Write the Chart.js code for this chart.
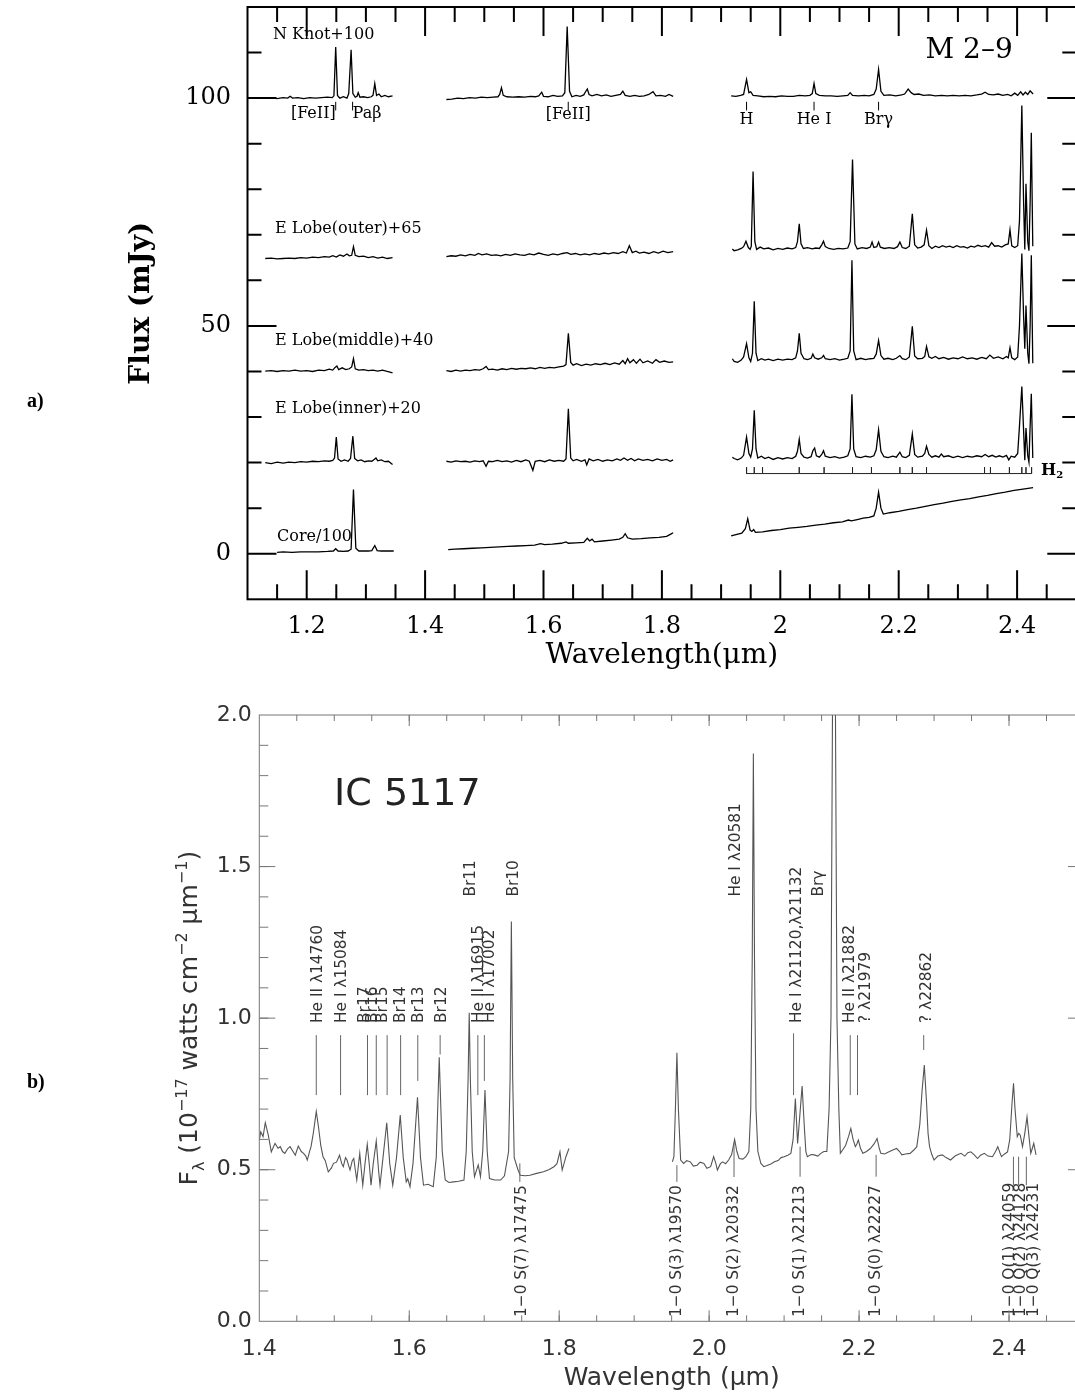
<!DOCTYPE html>
<html lang="en">
<head>
<meta charset="utf-8">
<title>M 2-9 and IC 5117 near-infrared spectra</title>
<script src="https://cdn.jsdelivr.net/npm/chart.js@4.4.1/dist/chart.umd.min.js"></script>
<style>
  html, body { margin: 0; padding: 0; background: #fff; overflow: hidden; }
  body { position: relative; width: 1075px; height: 1394px; }
  canvas { position: absolute; left: 0; }
  #chartA { top: -33.4px; }
  #chartB { top: 684.7px; }
  .panel-tag { position: absolute; left: 27px; font: bold 20px "Liberation Serif", serif; line-height: 24px; color: #000; }
</style>
</head>
<body>
<canvas id="chartA" width="1100" height="734"></canvas>
<canvas id="chartB" width="1100" height="709"></canvas>
<div class="panel-tag" style="top:388px">a)</div>
<div class="panel-tag" style="top:1069px">b)</div>
<script>
// ===================== Panel a: M 2-9 =====================
// Each spectrum is [wavelength (µm), flux (mJy)] before its vertical offset.
const m29SpectrumNames = ['N Knot+100', 'E Lobe(outer)+65', 'E Lobe(middle)+40', 'E Lobe(inner)+20', 'Core/100'];
const m29Offsets = [100, 65, 40, 20, 0];

const nKnot = [
  [1.135,0.0],[1.140,0.1],[1.150,-0.1],[1.160,0.1],[1.168,0.0],[1.172,0.4],[1.176,0.0],[1.185,0.1],[1.195,-0.1],[1.205,0.1],
  [1.215,0.0],[1.225,0.1],[1.235,0.2],[1.243,0.1],[1.246,0.5],[1.249,11.2],[1.252,0.6],[1.256,0.0],[1.262,0.3],[1.268,0.0],
  [1.271,1.0],[1.275,10.6],[1.278,1.0],[1.282,0.2],[1.285,0.4],[1.287,1.2],[1.290,0.2],[1.296,0.3],[1.303,0.1],[1.309,0.3],
  [1.312,0.6],[1.315,3.2],[1.318,0.6],[1.322,0.9],[1.326,0.3],[1.332,0.6],[1.338,0.3],[1.345,0.5],
  [1.436,-0.3],[1.445,-0.2],[1.455,0.0],[1.465,-0.1],[1.475,0.1],[1.485,0.0],[1.495,0.2],[1.505,0.1],[1.515,0.2],[1.523,0.3],
  [1.526,0.8],[1.529,2.3],[1.532,0.6],[1.538,0.3],[1.548,0.2],[1.558,0.3],[1.568,0.2],[1.578,0.4],[1.586,0.3],[1.592,0.5],
  [1.597,1.3],[1.600,0.4],[1.608,0.3],[1.616,0.6],[1.624,0.4],[1.632,0.5],[1.636,1.2],[1.640,15.7],[1.644,1.5],[1.648,0.3],
  [1.655,0.6],[1.662,0.4],[1.668,0.7],[1.671,1.4],[1.674,2.0],[1.677,0.8],[1.682,0.5],[1.690,0.8],[1.698,0.5],[1.706,0.7],
  [1.714,0.4],[1.722,0.6],[1.730,0.8],[1.734,1.5],[1.738,0.6],[1.746,0.4],[1.754,0.6],[1.762,0.4],[1.770,0.5],[1.778,0.8],
  [1.785,1.4],[1.790,0.5],[1.798,0.6],[1.806,0.4],[1.812,0.8],[1.819,0.4],
  [1.917,0.5],[1.925,0.4],[1.933,0.6],[1.938,0.8],[1.943,4.1],[1.947,1.2],[1.950,1.4],[1.954,0.6],[1.962,0.5],[1.972,0.3],
  [1.982,0.4],[1.992,0.3],[2.002,0.5],[2.012,0.4],[2.022,0.4],[2.032,0.6],[2.042,0.5],[2.050,0.6],[2.054,1.0],[2.057,3.2],
  [2.060,1.0],[2.066,0.6],[2.076,0.5],[2.086,0.5],[2.096,0.4],[2.106,0.5],[2.114,0.6],[2.118,1.2],[2.122,0.6],[2.132,0.5],
  [2.142,0.6],[2.150,0.5],[2.158,0.8],[2.162,2.0],[2.166,6.3],[2.170,1.5],[2.175,0.6],[2.185,0.7],[2.195,0.5],[2.205,0.7],
  [2.210,0.9],[2.216,2.0],[2.221,1.2],[2.226,0.8],[2.234,0.9],[2.242,0.6],[2.252,0.7],[2.262,0.5],[2.272,0.6],[2.282,0.5],
  [2.292,0.6],[2.302,0.5],[2.312,0.6],[2.322,0.5],[2.332,0.7],[2.340,0.9],[2.346,1.3],[2.352,0.8],[2.360,0.7],[2.368,0.9],
  [2.376,0.6],[2.384,0.8],[2.390,0.5],[2.396,1.1],[2.401,0.6],[2.406,1.4],[2.410,0.7],[2.414,1.3],[2.418,0.8],[2.422,1.6],[2.427,0.9]
];

const eLobeOuter = [
  [1.130,-0.2],[1.140,-0.1],[1.150,-0.3],[1.160,-0.2],[1.170,-0.1],[1.180,-0.2],[1.190,0.0],[1.200,-0.1],[1.210,0.1],[1.220,0.0],
  [1.230,0.2],[1.238,0.1],[1.244,0.4],[1.250,0.1],[1.256,0.6],[1.262,0.3],[1.268,0.8],[1.272,0.4],[1.276,0.5],[1.279,2.4],
  [1.282,0.5],[1.288,0.2],[1.296,0.3],[1.304,0.0],[1.312,0.2],[1.320,-0.1],[1.328,0.1],[1.336,-0.2],[1.345,0.0],
  [1.436,0.2],[1.444,0.4],[1.452,0.3],[1.460,0.6],[1.468,0.4],[1.476,0.7],[1.484,0.5],[1.490,0.9],[1.496,0.6],[1.504,0.8],
  [1.512,0.5],[1.520,0.6],[1.528,0.4],[1.536,0.7],[1.544,0.5],[1.552,0.8],[1.560,0.6],[1.568,0.5],[1.576,0.8],[1.584,0.6],
  [1.592,1.0],[1.600,0.7],[1.608,0.5],[1.616,0.8],[1.624,0.6],[1.632,0.9],[1.640,1.1],[1.646,0.7],[1.654,0.9],[1.662,0.6],
  [1.670,0.8],[1.678,0.6],[1.686,0.9],[1.694,0.7],[1.702,1.0],[1.710,0.8],[1.718,1.1],[1.726,0.9],[1.734,1.3],[1.740,1.0],
  [1.745,2.6],[1.750,1.1],[1.756,1.4],[1.762,1.0],[1.770,1.2],[1.778,0.9],[1.786,1.3],[1.794,1.0],[1.802,1.4],[1.810,1.1],[1.819,1.3],
  [1.919,1.9],[1.922,1.5],[1.928,1.7],[1.934,2.0],[1.938,2.4],[1.942,3.6],[1.946,2.2],[1.949,1.8],[1.951,2.5],[1.954,18.9],
  [1.957,3.5],[1.960,1.8],[1.966,2.3],[1.972,1.9],[1.980,2.1],[1.988,1.7],[1.996,2.0],[2.004,1.8],[2.012,2.1],[2.020,1.9],
  [2.026,2.2],[2.029,3.5],[2.032,7.4],[2.035,3.0],[2.039,2.0],[2.046,2.2],[2.054,1.9],[2.060,2.1],[2.066,2.0],[2.070,2.8],
  [2.073,3.6],[2.076,2.4],[2.082,2.0],[2.090,1.8],[2.098,2.0],[2.106,1.9],[2.114,2.1],[2.118,3.5],[2.122,21.5],[2.126,3.0],
  [2.130,1.9],[2.138,2.2],[2.146,2.0],[2.152,2.3],[2.155,3.4],[2.158,2.2],[2.163,2.4],[2.166,3.4],[2.169,2.3],[2.176,2.0],
  [2.184,2.2],[2.192,2.0],[2.198,2.4],[2.202,3.4],[2.206,2.2],[2.212,2.0],[2.218,2.5],[2.223,9.6],[2.227,2.8],[2.232,2.1],
  [2.238,2.3],[2.243,2.8],[2.247,6.0],[2.251,2.6],[2.256,2.0],[2.262,2.5],[2.268,2.2],[2.274,2.6],[2.280,2.3],[2.286,2.5],
  [2.292,2.2],[2.298,2.6],[2.304,2.3],[2.310,2.4],[2.316,2.1],[2.322,2.5],[2.328,2.3],[2.334,2.7],[2.340,2.4],[2.346,2.6],
  [2.352,2.3],[2.357,3.3],[2.362,2.5],[2.368,2.6],[2.374,2.3],[2.380,2.8],[2.385,3.0],[2.388,6.1],[2.391,2.6],[2.396,2.2],
  [2.401,2.6],[2.404,8.0],[2.408,33.4],[2.411,12.0],[2.413,1.8],[2.415,16.2],[2.418,3.5],[2.420,1.5],[2.422,12.0],[2.424,27.4],[2.4265,2.5]
];

const eLobeMiddle = [
  [1.130,0.1],[1.140,0.2],[1.150,0.0],[1.160,0.2],[1.170,0.1],[1.180,0.3],[1.190,0.1],[1.200,0.2],[1.210,0.0],[1.220,0.3],
  [1.230,0.2],[1.238,0.5],[1.244,0.3],[1.248,0.9],[1.251,1.2],[1.254,0.4],[1.260,0.8],[1.266,0.4],[1.272,0.6],[1.276,1.0],
  [1.279,2.8],[1.282,0.6],[1.288,0.3],[1.296,0.4],[1.304,0.2],[1.312,0.3],[1.320,0.1],[1.328,0.3],[1.336,0.0],[1.345,-0.3],
  [1.436,0.2],[1.444,0.0],[1.452,0.3],[1.460,0.1],[1.468,0.3],[1.476,0.2],[1.484,0.4],[1.492,0.3],[1.498,0.6],[1.503,1.1],
  [1.507,0.4],[1.514,0.5],[1.522,0.3],[1.530,0.6],[1.538,0.4],[1.546,0.7],[1.554,0.5],[1.562,0.7],[1.570,0.6],[1.578,0.8],
  [1.586,0.6],[1.594,0.9],[1.602,0.7],[1.610,0.9],[1.618,0.8],[1.626,1.0],[1.634,1.2],[1.638,1.5],[1.642,8.4],[1.646,2.0],
  [1.650,1.4],[1.656,1.7],[1.664,1.3],[1.672,1.6],[1.680,1.4],[1.688,1.7],[1.696,1.5],[1.704,1.8],[1.712,1.5],[1.720,1.9],
  [1.728,1.6],[1.734,2.4],[1.738,1.7],[1.742,2.8],[1.746,1.9],[1.752,2.6],[1.757,1.8],[1.763,2.7],[1.768,1.9],[1.776,2.3],
  [1.784,1.8],[1.790,2.6],[1.796,2.0],[1.804,2.3],[1.812,2.0],[1.819,2.1],
  [1.919,2.8],[1.922,2.2],[1.928,2.0],[1.934,2.5],[1.938,3.2],[1.943,6.1],[1.947,3.0],[1.950,2.2],[1.953,4.0],[1.956,15.4],
  [1.959,4.0],[1.962,2.4],[1.968,2.8],[1.974,2.5],[1.980,2.7],[1.988,2.4],[1.996,2.7],[2.004,2.5],[2.012,2.7],[2.020,2.6],
  [2.026,3.0],[2.029,4.5],[2.032,8.4],[2.035,4.0],[2.040,2.8],[2.046,2.6],[2.052,2.9],[2.055,3.8],[2.058,3.0],[2.064,2.7],
  [2.070,3.0],[2.073,3.5],[2.076,2.8],[2.084,2.6],[2.092,2.8],[2.100,2.5],[2.108,2.7],[2.114,2.9],[2.118,4.5],[2.121,24.4],
  [2.124,4.5],[2.128,2.6],[2.136,2.9],[2.144,2.6],[2.152,2.8],[2.158,2.9],[2.162,3.8],[2.166,6.8],[2.170,3.5],[2.175,2.7],
  [2.182,2.9],[2.190,2.6],[2.196,2.9],[2.202,3.5],[2.206,2.8],[2.212,2.6],[2.218,3.2],[2.223,9.9],[2.227,3.4],[2.232,2.8],
  [2.240,2.9],[2.244,3.3],[2.247,5.5],[2.251,3.2],[2.256,2.9],[2.262,3.3],[2.268,2.8],[2.276,3.1],[2.284,2.7],[2.292,3.0],
  [2.300,2.8],[2.308,3.2],[2.316,2.8],[2.324,3.0],[2.332,2.7],[2.340,3.1],[2.348,2.8],[2.354,3.6],[2.360,2.9],[2.368,3.2],
  [2.376,2.8],[2.382,3.3],[2.385,3.0],[2.388,5.2],[2.391,3.0],[2.396,2.6],[2.401,3.2],[2.404,10.0],[2.408,25.9],[2.411,12.0],
  [2.413,5.0],[2.415,14.5],[2.418,4.0],[2.420,1.7],[2.422,10.0],[2.424,25.5],[2.4265,1.8]
];

const eLobeInner = [
  [1.130,0.0],[1.140,-0.2],[1.150,0.1],[1.160,-0.1],[1.170,0.1],[1.180,0.0],[1.190,0.2],[1.200,0.1],[1.210,0.3],[1.220,0.2],
  [1.230,0.4],[1.238,0.3],[1.244,0.5],[1.247,1.0],[1.250,5.6],[1.253,0.8],[1.258,0.3],[1.264,0.6],[1.270,0.3],[1.274,0.9],
  [1.278,5.8],[1.281,0.9],[1.286,0.4],[1.292,0.6],[1.298,0.2],[1.304,0.4],[1.310,0.3],[1.314,0.7],[1.317,1.0],[1.320,0.4],
  [1.326,0.6],[1.332,0.2],[1.338,0.3],[1.345,-0.4],
  [1.436,0.3],[1.444,0.1],[1.452,0.4],[1.460,0.2],[1.468,0.3],[1.476,0.1],[1.484,0.4],[1.492,0.2],[1.498,0.4],[1.503,-0.8],
  [1.507,0.3],[1.514,0.2],[1.522,0.5],[1.530,0.2],[1.538,0.4],[1.546,0.1],[1.554,0.5],[1.562,0.2],[1.570,0.6],[1.576,0.3],
  [1.582,-1.7],[1.586,0.3],[1.594,0.5],[1.602,0.2],[1.610,0.6],[1.618,0.3],[1.626,0.5],[1.634,0.3],[1.638,0.8],[1.642,11.8],
  [1.646,1.0],[1.650,0.4],[1.656,0.7],[1.664,0.3],[1.670,0.6],[1.673,-0.5],[1.677,0.8],[1.684,0.4],[1.692,0.7],[1.700,0.3],
  [1.708,0.6],[1.716,0.4],[1.724,0.8],[1.730,0.5],[1.736,1.0],[1.742,0.5],[1.748,0.9],[1.754,0.4],[1.760,0.8],[1.768,0.5],
  [1.776,0.7],[1.784,0.4],[1.792,0.8],[1.800,0.5],[1.808,0.7],[1.814,0.3],[1.819,0.6],
  [1.919,1.2],[1.922,0.9],[1.928,0.6],[1.934,1.0],[1.938,1.6],[1.943,5.6],[1.947,2.0],[1.950,1.2],[1.953,3.0],[1.956,11.5],
  [1.959,3.0],[1.962,1.0],[1.968,1.4],[1.974,0.9],[1.980,1.2],[1.988,0.7],[1.996,1.1],[2.004,0.8],[2.012,1.1],[2.020,0.9],
  [2.026,1.4],[2.029,2.5],[2.032,5.1],[2.035,2.0],[2.040,1.2],[2.046,1.0],[2.052,1.3],[2.055,2.6],[2.058,3.2],[2.061,1.5],
  [2.066,1.2],[2.070,1.8],[2.073,2.6],[2.076,1.4],[2.084,1.1],[2.092,1.3],[2.100,1.0],[2.108,1.2],[2.114,1.5],[2.118,3.0],
  [2.121,15.0],[2.124,3.0],[2.128,1.3],[2.136,1.1],[2.144,1.4],[2.152,1.2],[2.158,1.5],[2.162,2.8],[2.166,7.2],[2.170,2.5],
  [2.175,1.3],[2.182,1.1],[2.190,1.4],[2.196,1.2],[2.202,2.3],[2.206,1.3],[2.212,1.1],[2.218,1.6],[2.223,6.3],[2.227,1.8],
  [2.232,1.2],[2.240,1.4],[2.244,2.0],[2.247,3.6],[2.251,1.8],[2.256,1.2],[2.262,1.5],[2.268,1.2],[2.272,1.9],[2.276,1.3],
  [2.284,1.5],[2.292,1.1],[2.300,1.4],[2.308,1.1],[2.316,1.4],[2.324,1.2],[2.332,1.5],[2.340,1.3],[2.346,1.8],[2.352,1.3],
  [2.358,1.6],[2.364,1.2],[2.370,1.5],[2.376,1.2],[2.382,1.6],[2.386,0.6],[2.390,1.4],[2.396,1.2],[2.401,2.0],[2.404,8.0],
  [2.408,16.7],[2.411,7.0],[2.413,0.5],[2.415,7.6],[2.418,1.5],[2.420,0.1],[2.422,8.0],[2.424,15.1],[2.4265,1.0]
];

const core = [
  [1.150,0.3],[1.160,0.4],[1.175,0.3],[1.190,0.4],[1.205,0.4],[1.220,0.4],[1.235,0.5],[1.245,0.6],[1.249,1.1],[1.253,0.6],
  [1.262,0.5],[1.270,0.6],[1.275,1.0],[1.279,14.1],[1.283,1.2],[1.288,0.6],[1.296,0.6],[1.304,0.6],[1.310,0.7],[1.315,1.8],
  [1.319,0.7],[1.326,0.6],[1.335,0.6],[1.347,0.6],
  [1.439,0.9],[1.450,1.0],[1.465,1.1],[1.480,1.2],[1.495,1.3],[1.510,1.4],[1.525,1.5],[1.540,1.6],[1.555,1.7],[1.570,1.8],
  [1.585,1.9],[1.595,2.2],[1.602,2.0],[1.615,2.1],[1.630,2.3],[1.638,2.6],[1.642,2.3],[1.655,2.4],[1.668,2.5],[1.674,3.4],
  [1.678,2.8],[1.682,3.2],[1.686,2.6],[1.700,2.8],[1.715,3.0],[1.728,3.2],[1.734,3.6],[1.738,4.4],[1.742,3.5],[1.750,3.2],
  [1.765,3.3],[1.780,3.5],[1.795,3.6],[1.808,3.8],[1.815,4.3],[1.819,4.6],
  [1.917,3.9],[1.925,4.2],[1.935,4.5],[1.941,5.5],[1.945,7.7],[1.949,5.2],[1.952,4.9],[1.955,5.3],[1.958,4.7],[1.970,4.8],
  [1.985,5.1],[2.000,5.3],[2.015,5.6],[2.030,5.8],[2.045,6.0],[2.060,6.3],[2.075,6.5],[2.090,6.8],[2.105,7.0],[2.115,7.4],
  [2.120,7.2],[2.130,7.5],[2.140,7.8],[2.150,8.0],[2.158,8.3],[2.162,10.0],[2.166,13.5],[2.170,10.0],[2.174,8.7],[2.185,9.0],
  [2.200,9.3],[2.215,9.7],[2.230,10.0],[2.245,10.4],[2.260,10.8],[2.275,11.1],[2.290,11.5],[2.305,11.8],[2.320,12.1],[2.335,12.5],
  [2.350,12.8],[2.365,13.2],[2.380,13.5],[2.395,13.9],[2.410,14.2],[2.427,14.5]
];

const m29LineNames = ['[FeII]', 'Paβ', '[FeII]', 'H', 'He I', 'Brγ'];
const m29LineWl = [1.249, 1.2775, 1.6418, 1.943, 2.057, 2.166];
const h2MarkerWl = [1.943, 1.956, 1.970, 2.032, 2.074, 2.122, 2.154, 2.202, 2.223, 2.247, 2.345, 2.355, 2.387, 2.408, 2.415, 2.4245];
const m29Title = 'M 2–9';

const m29XTicks = [1.2, 1.4, 1.6, 1.8, 2.0, 2.2, 2.4];
const m29XTickLabels = ['1.2', '1.4', '1.6', '1.8', '2', '2.2', '2.4'];
const m29YTicks = [0, 50, 100];
const m29YTickLabels = ['0', '50', '100'];

// ===================== Panel b: IC 5117 =====================
// [wavelength (µm), F_lambda (1e-17 W cm^-2 µm^-1)] – H and K segments
const ic5117Spectrum = [
  [1.400,0.598],[1.402,0.625],[1.405,0.609],[1.408,0.655],[1.412,0.614],[1.416,0.559],[1.421,0.587],[1.425,0.571],[1.428,0.576],[1.431,0.560],
  [1.434,0.554],[1.438,0.570],[1.441,0.576],[1.445,0.560],[1.448,0.548],[1.452,0.578],[1.456,0.560],[1.459,0.554],[1.462,0.545],[1.464,0.532],
  [1.467,0.560],[1.469,0.576],[1.472,0.620],[1.476,0.692],[1.479,0.640],[1.482,0.580],[1.485,0.543],[1.488,0.530],[1.492,0.493],[1.496,0.505],
  [1.499,0.521],[1.503,0.525],[1.507,0.548],[1.510,0.520],[1.512,0.510],[1.515,0.540],[1.517,0.532],[1.519,0.515],[1.521,0.499],[1.524,0.530],
  [1.526,0.537],[1.528,0.500],[1.530,0.466],[1.532,0.510],[1.534,0.554],[1.536,0.500],[1.538,0.449],[1.541,0.520],[1.544,0.584],[1.547,0.510],
  [1.549,0.449],[1.552,0.520],[1.556,0.595],[1.559,0.500],[1.561,0.449],[1.565,0.540],[1.570,0.655],[1.574,0.520],[1.578,0.449],[1.583,0.540],
  [1.588,0.680],[1.592,0.540],[1.596,0.460],[1.598,0.470],[1.601,0.444],[1.605,0.520],[1.611,0.739],[1.615,0.540],[1.619,0.449],[1.625,0.452],
  [1.632,0.444],[1.636,0.540],[1.640,0.871],[1.644,0.560],[1.648,0.466],[1.653,0.458],[1.659,0.460],[1.666,0.462],[1.673,0.466],[1.676,0.560],
  [1.6785,0.800],[1.680,1.018],[1.6815,0.800],[1.684,0.560],[1.687,0.477],[1.692,0.516],[1.695,0.477],[1.698,0.560],[1.701,0.763],[1.704,0.560],
  [1.707,0.471],[1.714,0.466],[1.722,0.466],[1.727,0.480],[1.7325,0.560],[1.7345,0.800],[1.7362,1.319],[1.738,0.800],[1.740,0.540],[1.745,0.500],
  [1.748,0.482],[1.755,0.480],[1.761,0.482],[1.770,0.488],[1.779,0.493],[1.786,0.500],[1.793,0.510],[1.797,0.520],[1.801,0.559],[1.804,0.499],
  [1.809,0.543],[1.813,0.570],
  [1.951,0.526],[1.953,0.543],[1.955,0.700],[1.957,0.886],[1.959,0.700],[1.962,0.532],[1.966,0.521],[1.970,0.530],[1.975,0.526],[1.979,0.512],
  [1.984,0.515],[1.988,0.525],[1.993,0.521],[1.997,0.505],[2.002,0.510],[2.006,0.543],[2.009,0.520],[2.011,0.499],[2.015,0.520],[2.018,0.526],
  [2.022,0.520],[2.026,0.532],[2.030,0.550],[2.034,0.600],[2.037,0.560],[2.040,0.537],[2.045,0.535],[2.049,0.543],[2.053,0.560],[2.0555,0.700],
  [2.0575,1.200],[2.059,1.873],[2.0605,1.200],[2.0625,0.700],[2.065,0.560],[2.069,0.521],[2.073,0.510],[2.078,0.515],[2.083,0.520],[2.087,0.526],
  [2.092,0.530],[2.096,0.540],[2.100,0.543],[2.105,0.548],[2.109,0.554],[2.112,0.600],[2.115,0.735],[2.118,0.587],[2.121,0.680],[2.124,0.776],
  [2.127,0.640],[2.129,0.560],[2.131,0.543],[2.136,0.550],[2.140,0.549],[2.145,0.545],[2.149,0.554],[2.153,0.560],[2.157,0.560],[2.160,0.700],
  [2.1625,1.000],[2.1645,2.000],[2.1665,2.800],[2.1685,2.000],[2.1705,1.000],[2.173,0.700],[2.175,0.554],[2.178,0.565],[2.182,0.580],[2.186,0.610],
  [2.189,0.636],[2.192,0.600],[2.195,0.576],[2.197,0.585],[2.199,0.598],[2.202,0.570],[2.205,0.554],[2.210,0.560],[2.215,0.570],[2.220,0.585],
  [2.224,0.603],[2.227,0.570],[2.229,0.554],[2.234,0.552],[2.240,0.559],[2.245,0.565],[2.250,0.570],[2.254,0.560],[2.257,0.549],[2.262,0.552],
  [2.268,0.554],[2.273,0.565],[2.277,0.576],[2.281,0.650],[2.284,0.760],[2.287,0.845],[2.290,0.720],[2.292,0.620],[2.294,0.576],[2.297,0.550],
  [2.300,0.532],[2.305,0.545],[2.311,0.549],[2.316,0.540],[2.322,0.532],[2.328,0.545],[2.332,0.550],[2.336,0.554],[2.341,0.545],[2.345,0.556],
  [2.349,0.559],[2.354,0.548],[2.358,0.537],[2.362,0.548],[2.367,0.554],[2.372,0.545],[2.378,0.543],[2.382,0.560],[2.385,0.576],[2.388,0.555],
  [2.390,0.543],[2.394,0.552],[2.398,0.559],[2.401,0.600],[2.404,0.720],[2.406,0.785],[2.408,0.700],[2.411,0.609],[2.413,0.620],[2.415,0.614],
  [2.418,0.576],[2.421,0.620],[2.424,0.674],[2.427,0.600],[2.429,0.554],[2.431,0.570],[2.433,0.587],[2.436,0.549]
];

const ic5117UpperIdNames = ['He II λ14760', 'He I λ15084', 'Br17', 'Br16', 'Br15', 'Br14', 'Br13', 'Br12', 'Br11',
  'He II λ16915', 'He I λ17002', 'Br10', 'He I λ20581', 'He I λ21120,λ21132', 'Brγ', 'He II λ21882', '? λ21979', '? λ22862'];
const ic5117UpperIdWl = [1.4760, 1.5084, 1.5443, 1.5560, 1.5705, 1.5885, 1.6114, 1.6412, 1.6811,
  1.6915, 1.7002, 1.7367, 2.0581, 2.1126, 2.1661, 2.1882, 2.1979, 2.2862];
const ic5117LowerIdNames = ['1−0 S(7) λ17475', '1−0 S(3) λ19570', '1−0 S(2) λ20332', '1−0 S(1) λ21213',
  '1−0 S(0) λ22227', '1−0 Q(1) λ24059', '1−0 Q(2) λ24128', '1−0 Q(3) λ24231'];
const ic5117LowerIdWl = [1.7475, 1.9570, 2.0332, 2.1213, 2.2227, 2.4059, 2.4128, 2.4231];
const ic5117Title = 'IC 5117';

const ic5117XTicks = [1.4, 1.6, 1.8, 2.0, 2.2, 2.4];
const ic5117XTickLabels = ['1.4', '1.6', '1.8', '2.0', '2.2', '2.4'];
const ic5117YTicks = [0, 0.5, 1.0, 1.5, 2.0];
const ic5117YTickLabels = ['0.0', '0.5', '1.0', '1.5', '2.0'];

// ===================== layout (where the annotations sit) =====================
const m29NameAnchors = [[1.143, 113.8], [1.1466, 71.4], [1.1466, 46.8], [1.1466, 31.9], [1.150, 3.8]];
const m29LineLabelLayout = [
  { align: 'right', dx: 0, level: 96.5 }, { align: 'left', dx: 0, level: 96.5 }, { align: 'center', dx: 0, level: 96.3 },
  { align: 'center', dx: 0, level: 95.3 }, { align: 'center', dx: 0, level: 95.3 }, { align: 'center', dx: 0, level: 95.3 }
];
const m29LineTick = [97.3, 99.2];
const h2Comb = { base: 17.6, top: 19.0 };

const upperIdLayout = [
  { level: 0.984, dx: 2, tick: [0.746, 0.944] },
  { level: 0.984, dx: 1, tick: [0.746, 0.944] },
  { level: 0.984, dx: -2, tick: [0.746, 0.944] },
  { level: 0.984, dx: -3, tick: [0.746, 0.944] },
  { level: 0.984, dx: -4, tick: [0.746, 0.944] },
  { level: 0.984, dx: 0, tick: [0.746, 0.944] },
  { level: 0.984, dx: 1, tick: [0.793, 0.944] },
  { level: 0.984, dx: 2, tick: [0.880, 0.944] },
  { level: 1.401, dx: 1, tick: null },
  { level: 0.984, dx: 1.5, tick: [0.746, 0.944] },
  { level: 0.984, dx: 5.5, tick: [0.793, 0.944] },
  { level: 1.401, dx: 2, tick: null },
  { level: 1.401, dx: -17, tick: null },
  { level: 0.984, dx: 3.5, tick: [0.746, 0.950] },
  { level: 1.401, dx: -15, tick: null },
  { level: 0.984, dx: 0, tick: [0.746, 0.944] },
  { level: 0.984, dx: 8, tick: [0.746, 0.944] },
  { level: 0.984, dx: 3.5, tick: [0.895, 0.944] }
];
const lowerIdLayout = [
  { level: 0.014, dx: 2, tick: [0.460, 0.521] },
  { level: 0.014, dx: 0, tick: [0.460, 0.515] },
  { level: 0.014, dx: 0, tick: [0.476, 0.588] },
  { level: 0.014, dx: 0, tick: [0.477, 0.576] },
  { level: 0.014, dx: 0, tick: [0.477, 0.549] },
  { level: 0.014, dx: -3, tick: [0.449, 0.543] },
  { level: 0.014, dx: 2.5, tick: [0.449, 0.543] },
  { level: 0.014, dx: 8, tick: [0.449, 0.543] }
];

// ===================== helpers =====================
// spectrum pairs -> chart points, breaking the line across the atmospheric gaps
function toPoints(pairs, offset) {
  const pts = [];
  pairs.forEach(([w, f], i) => {
    if (i > 0 && w - pairs[i - 1][0] > 0.05) pts.push({ x: (w + pairs[i - 1][0]) / 2, y: null });
    pts.push({ x: w, y: f + offset });
  });
  return pts;
}
function combPoints(wls, base, top) {
  const pts = [];
  wls.forEach((w, i) => {
    if (i) pts.push({ x: w, y: base });
    pts.push({ x: w, y: top });
    pts.push({ x: w, y: base });
  });
  return pts;
}
function steps(from, to, step) {
  const out = [];
  for (let k = Math.round(from / step); k * step <= to + 1e-9; k++) out.push(+(k * step).toFixed(4));
  return out;
}
function labelFor(values, labels) {
  return v => {
    const i = values.findIndex(t => Math.abs(t - v) < 1e-6);
    return i >= 0 ? labels[i] : '';
  };
}

// frame with inward-pointing ticks on all four sides
function framePlugin(id, o) {
  return {
    id,
    afterDraw(chart) {
      const { ctx, chartArea: a, scales: { x, y } } = chart;
      ctx.save();
      ctx.strokeStyle = o.color;
      ctx.lineWidth = o.frameWidth;
      ctx.strokeRect(a.left, a.top, a.right - a.left, a.bottom - a.top);
      ctx.lineWidth = o.tickWidth;
      ctx.beginPath();
      const xt = (vals, len) => vals.forEach(v => {
        if (v <= x.min + 1e-6 || v >= x.max - 1e-6) return;
        const p = x.getPixelForValue(v);
        ctx.moveTo(p, a.bottom); ctx.lineTo(p, a.bottom - len);
        ctx.moveTo(p, a.top); ctx.lineTo(p, a.top + len);
      });
      const yt = (vals, len) => vals.forEach(v => {
        if (v <= y.min + 1e-6 || v >= y.max - 1e-6) return;
        const p = y.getPixelForValue(v);
        ctx.moveTo(a.left, p); ctx.lineTo(a.left + len, p);
        ctx.moveTo(a.right, p); ctx.lineTo(a.right - len, p);
      });
      xt(o.xMajor, o.xMajorLen); xt(o.xMinor, o.xMinorLen);
      yt(o.yMajor, o.yMajorLen); yt(o.yMinor, o.yMinorLen);
      ctx.stroke();
      ctx.restore();
    }
  };
}

// ===================== panel a chart =====================
const m29Series = [nKnot, eLobeOuter, eLobeMiddle, eLobeInner, core];

const m29Labels = {
  id: 'm29Labels',
  afterDatasetsDraw(chart) {
    const { ctx, scales: { x, y } } = chart;
    ctx.save();
    ctx.fillStyle = '#000';
    ctx.strokeStyle = '#000';
    ctx.textBaseline = 'middle';
    ctx.font = '16px "DejaVu Serif"';
    ctx.textAlign = 'left';
    m29SpectrumNames.forEach((name, i) => {
      const [wl, f] = m29NameAnchors[i];
      ctx.fillText(name, x.getPixelForValue(wl), y.getPixelForValue(f));
    });
    ctx.lineWidth = 1;
    m29LineNames.forEach((name, i) => {
      const px = x.getPixelForValue(m29LineWl[i]);
      ctx.beginPath();
      ctx.moveTo(px, y.getPixelForValue(m29LineTick[1]));
      ctx.lineTo(px, y.getPixelForValue(m29LineTick[0]));
      ctx.stroke();
      const L = m29LineLabelLayout[i];
      ctx.textAlign = L.align;
      ctx.fillText(name, px + L.dx, y.getPixelForValue(L.level));
    });
    ctx.font = '28px "DejaVu Serif"';
    ctx.textAlign = 'center';
    ctx.fillText(m29Title, x.getPixelForValue(2.319), y.getPixelForValue(110.5));
    // H2 comb tag
    const hx = x.getPixelForValue(2.4404), hy = y.getPixelForValue(18.3);
    ctx.textAlign = 'left';
    ctx.font = 'bold 16px "DejaVu Serif"';
    ctx.fillText('H', hx, hy);
    const hw = ctx.measureText('H').width;
    ctx.font = 'bold 10px "DejaVu Serif"';
    ctx.fillText('2', hx + hw, hy + 5);
    ctx.restore();
  }
};

new Chart(document.getElementById('chartA'), {
  type: 'line',
  data: {
    datasets: [
      ...m29Series.map((s, i) => ({
        label: m29SpectrumNames[i],
        data: toPoints(s, m29Offsets[i]),
        borderColor: '#000',
        borderWidth: 1.3
      })),
      {
        label: 'H2',
        data: combPoints(h2MarkerWl, h2Comb.base, h2Comb.top),
        borderColor: '#222',
        borderWidth: 1
      }
    ]
  },
  options: {
    responsive: false,
    animation: false,
    devicePixelRatio: 1,
    layout: { padding: { left: 0, top: 40, right: 23.7, bottom: 0 } },
    elements: { point: { radius: 0 }, line: { tension: 0 } },
    plugins: { legend: { display: false }, tooltip: { enabled: false } },
    scales: {
      x: {
        type: 'linear', min: 1.1, max: 2.5,
        grid: { display: false, drawTicks: false }, border: { display: false },
        afterBuildTicks: s => { s.ticks = m29XTicks.map(v => ({ value: v })); },
        afterFit: s => { s.height = 101.7; },
        ticks: { autoSkip: false, maxRotation: 0, padding: 12.7, color: '#000',
          font: { family: 'DejaVu Serif', size: 24 }, callback: labelFor(m29XTicks, m29XTickLabels) },
        title: { display: true, text: 'Wavelength(μm)', color: '#000',
          font: { family: 'DejaVu Serif', size: 28 }, padding: { top: 0, bottom: 28.2 } }
      },
      y: {
        type: 'linear', min: -10, max: 120,
        grid: { display: false, drawTicks: false }, border: { display: false },
        afterBuildTicks: s => { s.ticks = m29YTicks.map(v => ({ value: v })); },
        afterFit: s => { s.width = 247.5; },
        ticks: { autoSkip: false, padding: 16.5, color: '#000',
          font: { family: 'DejaVu Serif', size: 24 }, callback: labelFor(m29YTicks, m29YTickLabels) },
        title: { display: true, text: 'Flux (mJy)', color: '#000',
          font: { family: 'DejaVu Serif', size: 28, weight: 'bold' }, padding: { top: 125.2, bottom: 0 } }
      }
    }
  },
  plugins: [
    m29Labels,
    framePlugin('m29Frame', {
      color: '#000', frameWidth: 2, tickWidth: 2,
      xMajor: m29XTicks, xMinor: steps(1.1, 2.5, 0.05), xMajorLen: 29, xMinorLen: 15,
      yMajor: m29YTicks, yMinor: steps(-10, 120, 10), yMajorLen: 29, yMinorLen: 14
    })
  ]
});

// ===================== panel b chart =====================
const ic5117Labels = {
  id: 'ic5117Labels',
  afterDatasetsDraw(chart) {
    const { ctx, scales: { x, y } } = chart;
    ctx.save();
    ctx.strokeStyle = '#666';
    ctx.fillStyle = '#333';
    ctx.lineWidth = 1;
    ctx.font = '15.4px "DejaVu Sans"';
    ctx.textBaseline = 'middle';
    ctx.textAlign = 'left';
    const drawId = (name, wl, L) => {
      const px = x.getPixelForValue(wl);
      if (L.tick) {
        ctx.beginPath();
        ctx.moveTo(px, y.getPixelForValue(L.tick[0]));
        ctx.lineTo(px, y.getPixelForValue(L.tick[1]));
        ctx.stroke();
      }
      ctx.save();
      ctx.translate(px + L.dx, y.getPixelForValue(L.level));
      ctx.rotate(-Math.PI / 2);
      ctx.fillText(name, 0, 0);
      ctx.restore();
    };
    ic5117UpperIdNames.forEach((n, i) => drawId(n, ic5117UpperIdWl[i], upperIdLayout[i]));
    ic5117LowerIdNames.forEach((n, i) => drawId(n, ic5117LowerIdWl[i], lowerIdLayout[i]));

    ctx.fillStyle = '#222';
    ctx.font = '38px "DejaVu Sans"';
    ctx.fillText(ic5117Title, x.getPixelForValue(1.4998), y.getPixelForValue(1.737));

    // y-axis title with sub/superscripts, reading upwards
    const parts = [
      ['F', 25, 0], ['λ', 16, 7], [' (10', 25, 0], ['−17', 16, -10], [' watts cm', 25, 0],
      ['−2', 16, -10], [' μm', 25, 0], ['−1', 16, -10], [')', 25, 0]
    ];
    let total = 0;
    const widths = parts.map(([t, s]) => { ctx.font = s + 'px "DejaVu Sans"'; const w = ctx.measureText(t).width; total += w; return w; });
    ctx.save();
    ctx.translate(197, y.getPixelForValue(1.0));
    ctx.rotate(-Math.PI / 2);
    ctx.textBaseline = 'alphabetic';
    ctx.fillStyle = '#333';
    let cx = -total / 2;
    parts.forEach(([t, s, dy], i) => {
      ctx.font = s + 'px "DejaVu Sans"';
      ctx.fillText(t, cx, dy);
      cx += widths[i];
    });
    ctx.restore();
    ctx.restore();
  }
};

new Chart(document.getElementById('chartB'), {
  type: 'line',
  data: {
    datasets: [{
      label: ic5117Title,
      data: toPoints(ic5117Spectrum, 0),
      borderColor: '#555',
      borderWidth: 1.1
    }]
  },
  options: {
    responsive: false,
    animation: false,
    devicePixelRatio: 1,
    layout: { padding: { left: 0, top: 30, right: 16, bottom: 0 } },
    elements: { point: { radius: 0 }, line: { tension: 0 } },
    plugins: { legend: { display: false }, tooltip: { enabled: false } },
    scales: {
      x: {
        type: 'linear', min: 1.4, max: 2.5,
        grid: { display: false, drawTicks: false }, border: { display: false },
        afterBuildTicks: s => { s.ticks = ic5117XTicks.map(v => ({ value: v })); },
        afterFit: s => { s.height = 72.7; },
        ticks: { autoSkip: false, maxRotation: 0, padding: 14.3, color: '#333',
          font: { family: 'DejaVu Sans', size: 22 }, callback: labelFor(ic5117XTicks, ic5117XTickLabels) },
        title: { display: true, text: 'Wavelength (μm)', color: '#333',
          font: { family: 'DejaVu Sans', size: 25 }, padding: { top: 0, bottom: 1 } }
      },
      y: {
        type: 'linear', min: 0, max: 2.0,
        grid: { display: false, drawTicks: false }, border: { display: false },
        afterBuildTicks: s => { s.ticks = ic5117YTicks.map(v => ({ value: v })); },
        afterFit: s => { s.width = 259.3; },
        ticks: { autoSkip: false, padding: 7.6, color: '#333',
          font: { family: 'DejaVu Sans', size: 22 }, callback: labelFor(ic5117YTicks, ic5117YTickLabels) }
      }
    }
  },
  plugins: [
    ic5117Labels,
    framePlugin('ic5117Frame', {
      color: '#777', frameWidth: 1, tickWidth: 1,
      xMajor: ic5117XTicks, xMinor: steps(1.4, 2.5, 0.05), xMajorLen: 11, xMinorLen: 6,
      yMajor: ic5117YTicks, yMinor: steps(0, 2.0, 0.1), yMajorLen: 16, yMinorLen: 9
    })
  ]
});
</script>
</body>
</html>
